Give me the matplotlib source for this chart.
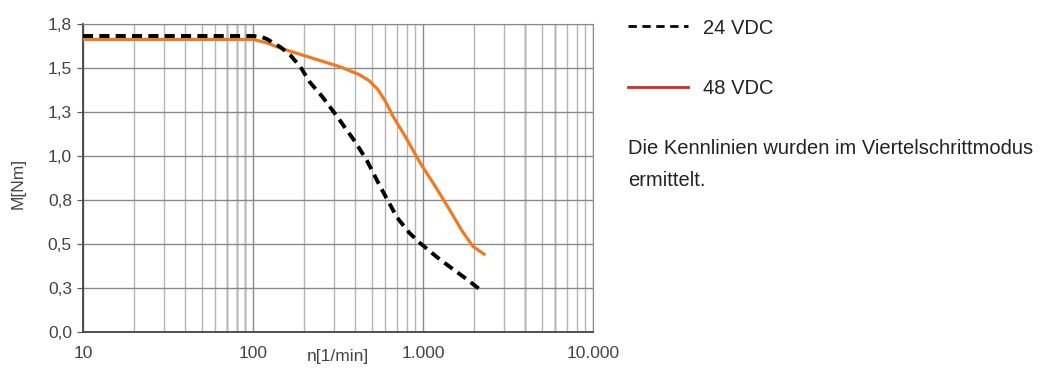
import matplotlib.pyplot as plt
from matplotlib.lines import Line2D
from matplotlib.ticker import FixedLocator, NullFormatter

# Kennlinien (Drehzahl n in 1/min, Moment M in Nm)
n_24 = [10, 30, 60, 100, 112, 122, 131, 145, 165, 190, 216, 258, 312, 400, 469, 560, 703, 830, 960, 1200, 1442, 1800, 2250]
m_24 = [1.73, 1.73, 1.73, 1.73, 1.725, 1.71, 1.69, 1.665, 1.62, 1.55, 1.46, 1.37, 1.26, 1.11, 1.00, 0.85, 0.67, 0.58, 0.52, 0.44, 0.38, 0.31, 0.235]

n_48 = [10, 30, 60, 100, 120, 144, 208, 325, 420, 480, 540, 600, 667, 800, 960, 1200, 1442, 1700, 1968, 2285]
m_48 = [1.71, 1.71, 1.71, 1.71, 1.69, 1.66, 1.61, 1.55, 1.505, 1.47, 1.42, 1.35, 1.26, 1.13, 0.99, 0.84, 0.71, 0.59, 0.50, 0.455]

y_max = 1.8
y_ticks = [y_max * i / 7 for i in range(8)]
x_ticks = [10, 100, 1000, 10000]
x_labels = ['10', '100', '1.000', '10.000']

plt.rcParams['font.family'] = ['Liberation Sans', 'DejaVu Sans']

fig = plt.figure(figsize=(10.41, 3.70), dpi=100)
ax = fig.add_axes([83 / 1041, 38 / 370, 510 / 1041, 308 / 370])

ax.set_xscale('log')
ax.set_xlim(10, 10000)
ax.set_ylim(0, y_max)

# Gitter
ax.xaxis.set_minor_locator(FixedLocator([k * 10 ** e for e in range(1, 4) for k in range(2, 10)]))
ax.xaxis.set_minor_formatter(NullFormatter())
ax.grid(True, which='major', axis='both', color='#8a8a8a', lw=1.0)
ax.grid(True, which='minor', axis='x', color='#b5b5b5', lw=1.0)
for xv in [70, 80, 90, 4000, 6000]:
    ax.axvline(xv, color='#6a6a6a', lw=1.0, zorder=1)

ax.plot(n_24, m_24, color='black', lw=2.8, ls=(0, (2.6, 1.6)), zorder=4)
ax.plot(n_48, m_48, color='#f07a22', lw=2.3, zorder=3)

ax.set_xticks(x_ticks)
ax.set_xticklabels(x_labels)
ax.set_yticks(y_ticks)
ax.set_yticklabels([f'{v:.1f}'.replace('.', ',') for v in y_ticks])
ax.tick_params(axis='x', which='both', length=0, pad=10, labelsize=12.5, labelcolor='#444444')
ax.tick_params(axis='y', length=4, color='#555555', pad=4, labelsize=12.5, labelcolor='#444444')

for side in ['top', 'right']:
    ax.spines[side].set_color('#8a8a8a')
for side in ['left', 'bottom']:
    ax.spines[side].set_color('#444444')
    ax.spines[side].set_linewidth(1.3)

fig.text(18 / 1041, 1 - 183 / 370, 'M[Nm]', rotation=90, ha='center', va='center',
         fontsize=12.5, color='#444444')
fig.text(338 / 1041, 1 - 356 / 370, 'n[1/min]', ha='center', va='center',
         fontsize=12.5, color='#444444')

# Legende rechts
fig.add_artist(Line2D([628 / 1041, 688 / 1041], [1 - 26 / 370] * 2, color='black',
                      lw=2.0, ls=(0, (3.0, 2.0)), transform=fig.transFigure))
fig.text(703 / 1041, 1 - 28 / 370, '24 VDC', ha='left', va='center', fontsize=14.5, color='#222222')
fig.add_artist(Line2D([628 / 1041, 688 / 1041], [1 - 87 / 370] * 2, color='#d42a2a',
                      lw=2.0, transform=fig.transFigure))
fig.text(703 / 1041, 1 - 88 / 370, '48 VDC', ha='left', va='center', fontsize=14.5, color='#222222')
fig.text(628 / 1041, 1 - 148 / 370, 'Die Kennlinien wurden im Viertelschrittmodus',
         ha='left', va='center', fontsize=14.5, color='#222222')
fig.text(628 / 1041, 1 - 181 / 370, 'ermittelt.', ha='left', va='center', fontsize=14.5, color='#222222')

fig.savefig('out.png', dpi=100)
